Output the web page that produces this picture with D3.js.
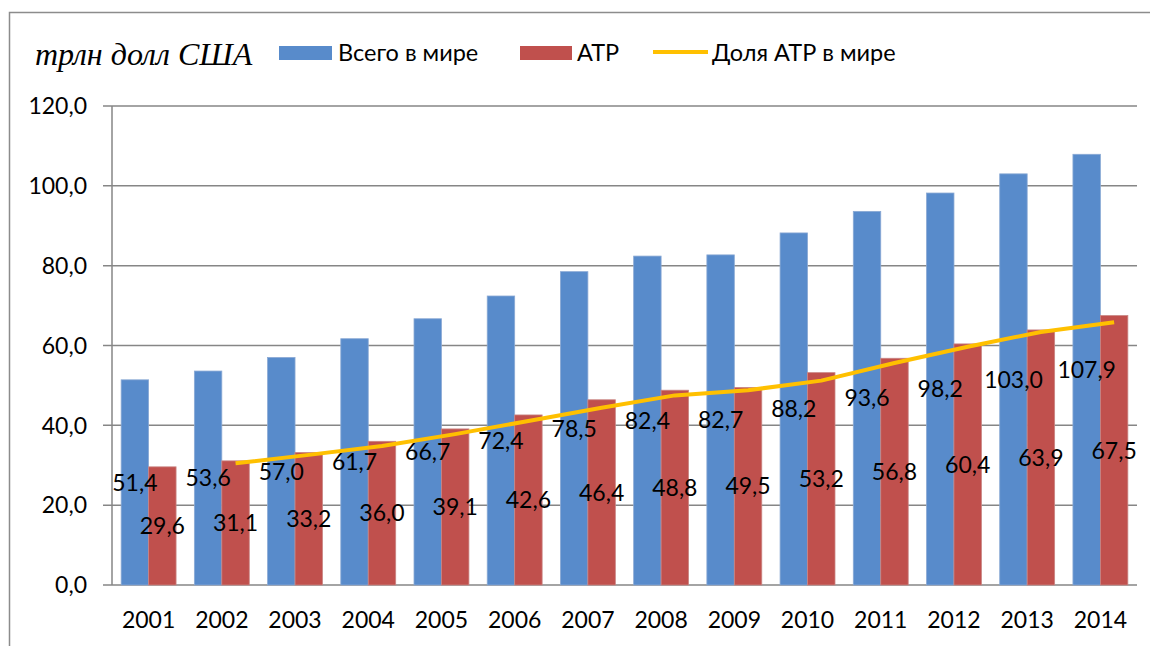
<!DOCTYPE html>
<html>
<head>
<meta charset="utf-8">
<script src="https://cdn.jsdelivr.net/npm/d3@7"></script>
<style>
  body { margin: 0; background: #fff; }
  svg text { font-family: Lato, "Open Sans", sans-serif; fill: #000; }
</style>
</head>
<body>
<svg id="chart" width="1150" height="646"></svg>
<script>
// values
const years = ['2001','2002','2003','2004','2005','2006','2007','2008','2009','2010','2011','2012','2013','2014'];
const world = [51.4, 53.6, 57.0, 61.7, 66.7, 72.4, 78.5, 82.4, 82.7, 88.2, 93.6, 98.2, 103.0, 107.9];
const atr = [29.6, 31.1, 33.2, 36.0, 39.1, 42.6, 46.4, 48.8, 49.5, 53.2, 56.8, 60.4, 63.9, 67.5];
// share line, plotted against the left axis (no point for 2001)
const share = [null, 30.5, 32.6, 34.8, 37.8, 41.1, 44.4, 47.5, 48.8, 51.2, 55.6, 59.7, 63.4, 65.8];
const yTicks = [0, 20, 40, 60, 80, 100, 120];

const svg = d3.select('#chart');
const plotLeft = 112, plotRight = 1137, plotTop = 106, plotBottom = 585;
const gridColor = '#868686';

const locale = d3.formatLocale({decimal: ',', thousands: ' ', grouping: [3], currency: ['', '']});
const fmt = locale.format('.1f');

const x0 = d3.scaleBand()
    .domain(years)
    .range([plotLeft, plotRight])
    .paddingInner(0.25)
    .paddingOuter(0.125);

const x1 = d3.scaleBand()
    .domain(['world', 'atr'])
    .range([0, x0.bandwidth()]);

const y = d3.scaleLinear()
    .domain([0, 120])
    .range([plotBottom, plotTop]);

// outer frame
svg.append('path')
    .attr('d', `M9.5,646 L9.5,12.5 L1150,12.5`)
    .attr('fill', 'none')
    .attr('stroke', '#8c8c8c')
    .attr('stroke-width', 1.5);

// gridlines
svg.append('g').selectAll('line')
    .data(yTicks)
    .enter()
    .append('line')
    .attr('x1', plotLeft - 9)
    .attr('x2', plotRight)
    .attr('y1', d => y(d))
    .attr('y2', d => y(d))
    .attr('stroke', gridColor)
    .attr('stroke-width', 1.5);

// y axis line
svg.append('line')
    .attr('x1', plotLeft).attr('x2', plotLeft)
    .attr('y1', y(120)).attr('y2', y(0))
    .attr('stroke', gridColor)
    .attr('stroke-width', 1.5);

svg.append('g').selectAll('text')
    .data(yTicks)
    .enter()
    .append('text')
    .attr('x', 87)
    .attr('y', d => y(d))
    .attr('dy', '0.36em')
    .attr('text-anchor', 'end')
    .style('font-size', '23px')
    .text(d => fmt(d));

// bars
const rows = years.map((yr, i) => ({year: yr, world: world[i], atr: atr[i]}));
const colors = {world: '#588BCB', atr: '#C0504D'};
const strokes = {world: '#8aa9d4', atr: '#c98583'};

const groups = svg.append('g').selectAll('g')
    .data(rows)
    .enter()
    .append('g')
    .attr('transform', d => `translate(${x0(d.year)},0)`);

groups.selectAll('rect')
    .data(d => ['world', 'atr'].map(k => ({key: k, value: d[k]})))
    .enter()
    .append('rect')
    .attr('x', d => x1(d.key))
    .attr('y', d => y(d.value))
    .attr('width', x1.bandwidth())
    .attr('height', d => y(0) - y(d.value))
    .attr('fill', d => colors[d.key])
    .attr('stroke', d => strokes[d.key])
    .attr('stroke-width', 0.8);

// share line
const line = d3.line()
    .defined(d => d.v != null)
    .x(d => x0(d.year) + x1('atr') + x1.bandwidth() / 2)
    .y(d => y(d.v));

svg.append('path')
    .datum(years.map((yr, i) => ({year: yr, v: share[i]})))
    .attr('d', line)
    .attr('fill', 'none')
    .attr('stroke', '#FFC000')
    .attr('stroke-width', 4)
    .attr('stroke-linejoin', 'round');

// value labels in the middle of each bar
groups.selectAll('text')
    .data(d => ['world', 'atr'].map(k => ({key: k, value: d[k]})))
    .enter()
    .append('text')
    .attr('x', d => x1(d.key) + x1.bandwidth() / 2)
    .attr('y', d => (y(d.value) + y(0)) / 2)
    .attr('dy', '0.36em')
    .attr('text-anchor', 'middle')
    .style('font-size', '23px')
    .text(d => fmt(d.value));

// x labels
svg.append('g').selectAll('text')
    .data(years)
    .enter()
    .append('text')
    .attr('x', d => x0(d) + x0.bandwidth() / 2)
    .attr('y', 628)
    .attr('text-anchor', 'middle')
    .style('font-size', '23px')
    .text(d => d);

// title
svg.append('text')
    .attr('x', 35)
    .attr('y', 65)
    .style('font-family', '"Liberation Serif", "Times New Roman", serif')
    .style('font-style', 'italic')
    .style('font-size', '32px')
    .text('трлн долл США');

// legend
const legend = svg.append('g');
legend.append('rect').attr('x', 279).attr('y', 46).attr('width', 53).attr('height', 14).attr('fill', colors.world);
legend.append('text').attr('x', 338).attr('y', 61).style('font-size', '23.5px').text('Всего в мире');
legend.append('rect').attr('x', 520).attr('y', 46).attr('width', 52).attr('height', 14).attr('fill', colors.atr);
legend.append('text').attr('x', 577).attr('y', 61).style('font-size', '23.5px').text('АТР');
legend.append('line').attr('x1', 653).attr('x2', 708).attr('y1', 52).attr('y2', 52)
    .attr('stroke', '#FFC000').attr('stroke-width', 4);
legend.append('text').attr('x', 712).attr('y', 61).style('font-size', '23.5px').text('Доля АТР в мире');
</script>
</body>
</html>
